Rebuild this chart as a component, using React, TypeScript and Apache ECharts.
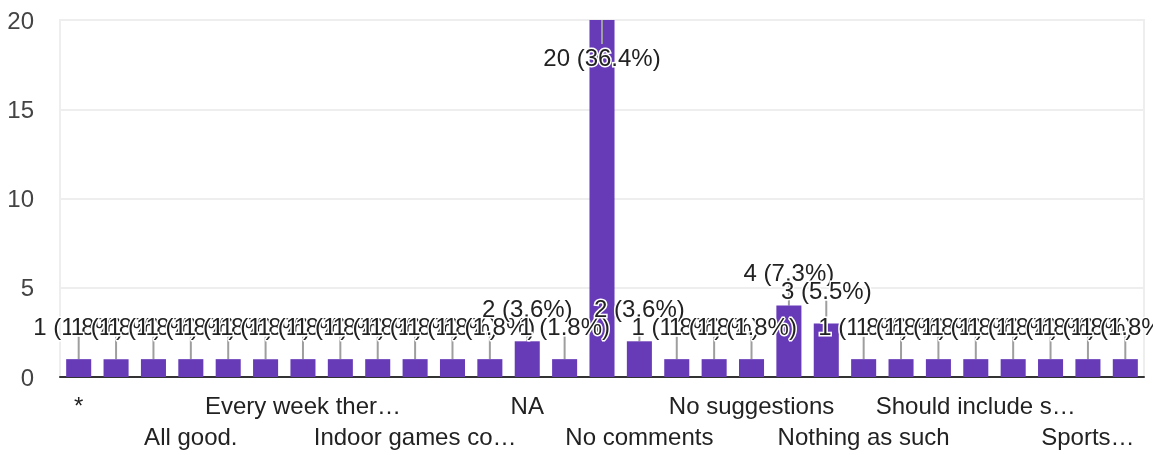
import React, { useEffect, useRef } from "react";
import * as echarts from "echarts";

const categories: string[] = [
  "*", "-", "All fine", "All good.", "Could be better", "Enough",
  "Every week ther…", "Good", "Improve facilities", "Indoor games co…",
  "Keep it up", "More sports events", "NA", "Nil", "No", "No comments",
  "No idea", "No remarks", "No suggestions", "None", "Nothing",
  "Nothing as such", "Nothing much", "Satisfied", "Should include s…",
  "Should increase time", "Some more events", "Sports…", "Very good",
];

const counts: number[] = [
  1, 1, 1, 1, 1, 1, 1, 1, 1, 1, 1, 1, 2, 1, 20, 2, 1, 1, 1, 4, 3, 1, 1, 1, 1, 1, 1, 1, 1,
];

const yTicks: number[] = [0, 5, 10, 15, 20];

const FONT = "'Liberation Sans', Arial, sans-serif";
const FS = 24;

export default function App() {
  const ref = useRef<HTMLDivElement>(null);

  useEffect(() => {
    document.body.style.margin = "0";
    if (!ref.current) return;
    const chart = echarts.init(ref.current, undefined, { renderer: "svg" });
    const total = counts.reduce((a, b) => a + b, 0);
    const yMax = yTicks[yTicks.length - 1];
    const pct = (v: number) => `${v} (${((v / total) * 100).toFixed(1)}%)`;

    const isInside = (v: number) => v > yMax * 0.85;

    const lineItem = (inside: boolean) => (params: any, api: any) => {
      const i = api.value(0);
      const v = api.value(1);
      if (isInside(v) !== inside) return null;
      const p = api.coord([i, v]);
      const y2 = inside ? p[1] + 24 : p[1] - 23;
      return {
        type: "line",
        shape: { x1: p[0], y1: p[1], x2: p[0], y2 },
        style: { stroke: "#9e9e9e", lineWidth: 2 },
      };
    };

    const lineData = counts.map((v, i) => [i, v]);

    chart.setOption({
      animation: false,
      grid: {
        left: 60, right: 9, top: 20, bottom: 78,
        outerBoundsMode: "none",
        containLabel: false,
        show: true, borderColor: "#eeeeee", borderWidth: 2,
      },
      xAxis: {
        type: "category",
        data: categories,
        axisLine: { show: true, lineStyle: { color: "#333333", width: 2 } },
        axisTick: { show: false },
        axisLabel: {
          interval: 0,
          showMinLabel: true,
          showMaxLabel: true,
          hideOverlap: false,
          margin: 13,
          fontSize: FS,
          fontFamily: FONT,
          color: "#222222",
          lineHeight: 31,
          formatter: (value: string, index: number) =>
            index % 3 !== 0 ? "" : (Math.floor(index / 3) % 2 === 1 ? "\n" : "") + value,
        },
      },
      yAxis: {
        type: "value",
        min: yTicks[0],
        max: yMax,
        interval: yTicks[1] - yTicks[0],
        axisLine: { show: false },
        axisTick: { show: false },
        splitLine: { lineStyle: { color: "#eeeeee", width: 2 } },
        axisLabel: { fontSize: FS, fontFamily: FONT, color: "#444444", margin: 26 },
      },
      series: [
        {
          type: "custom",
          z: 1,
          silent: true,
          renderItem: lineItem(false),
          data: lineData,
        },
        {
          type: "bar",
          z: 2,
          barWidth: "67%",
          itemStyle: { color: "#673ab7" },
          label: {
            show: true,
            position: "top",
            distance: 21,
            fontSize: FS,
            fontFamily: FONT,
            color: "#222222",
            textBorderColor: "#ffffff",
            textBorderWidth: 3,
            formatter: (p: any) => pct(p.value),
          },
          data: counts.map((v) =>
            isInside(v) ? { value: v, label: { position: "insideTop", distance: 25 } } : v
          ),
        },
        {
          type: "custom",
          z: 3,
          silent: true,
          renderItem: lineItem(true),
          data: lineData,
        },
      ],
    });

    return () => chart.dispose();
  }, []);

  return <div ref={ref} style={{ position: "fixed", left: 0, top: 0, width: 1153, height: 455 }} />;
}
